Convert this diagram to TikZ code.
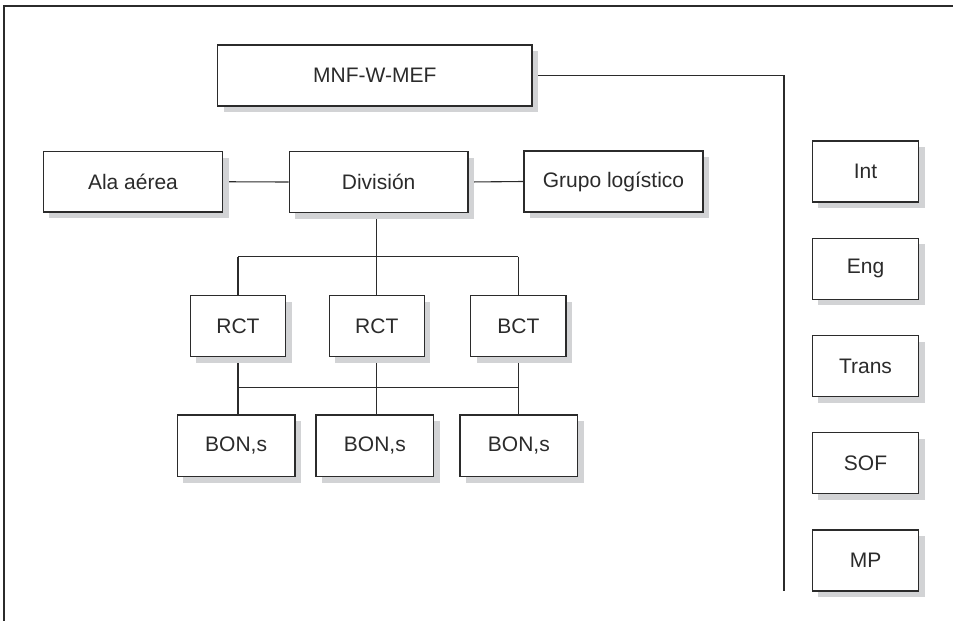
\documentclass[tikz,border=0pt]{standalone}
\usepackage{fontspec}
\setmainfont{Liberation Sans}
\usetikzlibrary{shadows,backgrounds}
\definecolor{ink}{HTML}{2B2B2B}
\definecolor{shade}{HTML}{D2D3D5}
\tikzset{
  orgbox/.style={draw=ink, line width=1.2pt, fill=white, inner sep=0pt,
    text=ink, font=\fontsize{21}{24}\selectfont,
    drop shadow={shadow xshift=6pt, shadow yshift=-6pt, fill=shade, opacity=1}},
  link/.style={draw=ink, line width=1.1pt},
  framel/.style={draw=ink, line width=2pt}
}
\begin{document}
\begin{tikzpicture}[x=1pt,y=-1pt]
\useasboundingbox (0,0) rectangle (953,621);
\draw[framel] (4,622) -- (4,5.7) -- (954,5.7);

\node[orgbox, minimum width=314.5pt, minimum height=61pt] (mnf) at (374.75,75.5) {MNF-W-MEF};
\node[orgbox, minimum width=179.4pt, minimum height=60.5pt] (ala) at (133,181.75) {Ala aérea};
\node[orgbox, minimum width=178.7pt, minimum height=61pt] (div) at (378.65,182) {División};
\node[orgbox, minimum width=179pt, minimum height=61pt] (gl) at (613.5,181.5) {Grupo logístico};

\node[orgbox, minimum width=95.4pt, minimum height=61pt] (r1) at (238,326.2) {RCT};
\node[orgbox, minimum width=95pt, minimum height=61pt] (r2) at (376.8,326.2) {RCT};
\node[orgbox, minimum width=95.3pt, minimum height=61pt] (bct) at (518.35,326.2) {BCT};

\node[orgbox, minimum width=117.7pt, minimum height=61.7pt] (b1) at (236.15,445.85) {BON,s};
\node[orgbox, minimum width=117.7pt, minimum height=61.7pt] (b2) at (374.85,445.85) {BON,s};
\node[orgbox, minimum width=117.7pt, minimum height=61.7pt] (b3) at (518.85,445.85) {BON,s};

\node[orgbox, minimum width=106.4pt, minimum height=61pt] (int) at (865.5,171.5) {Int};
\node[orgbox, minimum width=106.4pt, minimum height=61pt] (eng) at (865.5,268.75) {Eng};
\node[orgbox, minimum width=106.4pt, minimum height=61pt] (trans) at (865.5,366) {Trans};
\node[orgbox, minimum width=106.4pt, minimum height=61pt] (sof) at (865.5,463.25) {SOF};
\node[orgbox, minimum width=106.4pt, minimum height=61pt] (mp) at (865.5,560.5) {MP};

\coordinate (corner) at (784,75.5);
\coordinate (tail) at (784,591);
\coordinate (busA) at (0,256.7);
\coordinate (busB) at (0,387.3);

\begin{pgfonlayer}{background}
\draw[link] (mnf.east) -- (corner) -- (tail);
\draw[link] (ala.east) -- (div.west);
\draw[link] (div.east) -- (gl.west);
\draw[link] (div.south -| r2.north) -- (r2.north);
\draw[link] (r1.north |- busA) -- (bct.north |- busA);
\draw[link] (r1.north |- busA) -- (r1.north);
\draw[link] (bct.north |- busA) -- (bct.north);
\draw[link] (r1.south |- busB) -- (bct.south |- busB);
\draw[link] (r1.south) -- (r1.south |- b1.north);
\draw[link] (r2.south) -- (r2.south |- b2.north);
\draw[link] (bct.south) -- (bct.south |- b3.north);
\end{pgfonlayer}
\end{tikzpicture}
\end{document}
